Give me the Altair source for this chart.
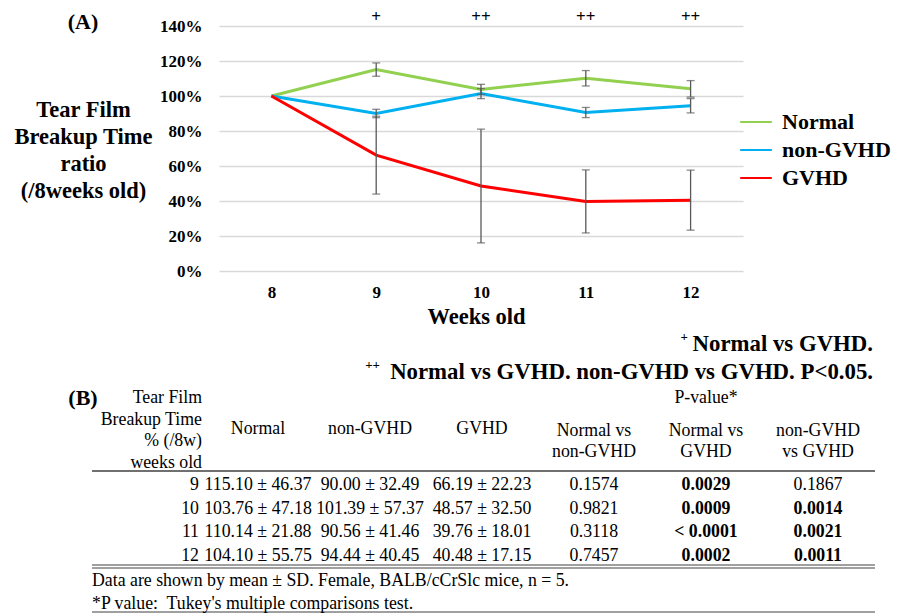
import altair as alt
import pandas as pd

FONT = "Liberation Serif"

# ---------------- data: panel (A) ----------------
weeks = [8, 9, 10, 11, 12]
groups = ["Normal", "non-GVHD", "GVHD"]
colors = ["#92d050", "#00b0f0", "#ff0000"]
normal_mean = [100.0, 115.10, 103.76, 110.14, 104.10]
nongvhd_mean = [100.0, 90.00, 101.39, 90.56, 94.44]
gvhd_mean = [100.0, 66.19, 48.57, 39.76, 40.48]
normal_err = [None, 3.8, 2.9, 4.4, 4.7]
nongvhd_err = [None, 2.4, 2.9, 2.9, 4.1]
gvhd_err = [None, 22.23, 32.50, 18.01, 17.15]
sig_marks = ["", "+", "++", "++", "++"]
y_title = ["Tear Film", "Breakup Time", "ratio", "(/8weeks old)"]
note_single = "Normal vs GVHD."
note_double = "Normal vs GVHD. non-GVHD vs GVHD. P<0.05."

# ---------------- data: panel (B) ----------------
tab_weeks = ["9", "10", "11", "12"]
tab_normal_mean = [115.10, 103.76, 110.14, 104.10]
tab_normal_sd = [46.37, 47.18, 21.88, 55.75]
tab_nongvhd_mean = [90.00, 101.39, 90.56, 94.44]
tab_nongvhd_sd = [32.49, 57.37, 41.46, 40.45]
tab_gvhd_mean = [66.19, 48.57, 39.76, 40.48]
tab_gvhd_sd = [22.23, 32.50, 18.01, 17.15]
p_normal_vs_nongvhd = ["0.1574", "0.9821", "0.3118", "0.7457"]
p_normal_vs_gvhd = ["0.0029", "0.0009", "< 0.0001", "0.0002"]
p_nongvhd_vs_gvhd = ["0.1867", "0.0014", "0.0021", "0.0011"]
table_columns = ["Normal", "non-GVHD", "GVHD",
                 "Normal vs non-GVHD", "Normal vs GVHD", "non-GVHD vs GVHD"]
table_headers = ["Normal", "non-GVHD", "GVHD",
                 "Normal vs\nnon-GVHD", "Normal vs\nGVHD", "non-GVHD\nvs GVHD"]
row_header = "Tear Film\nBreakup Time\n% (/8w)\nweeks old"
pvalue_header = "P-value*"
footnote_1 = "Data are shown by mean \u00b1 SD. Female, BALB/cCrSlc mice, n = 5."
footnote_2 = "*P value:\u00a0 Tukey's multiple comparisons test."

# ---------------- build tables ----------------
recs = []
for g, means, errs in zip(groups, [normal_mean, nongvhd_mean, gvhd_mean],
                          [normal_err, nongvhd_err, gvhd_err]):
    for w, m, e in zip(weeks, means, errs):
        recs.append({"week": w, "group": g, "ratio": m / 100.0,
                     "lo": None if e is None else (m - e) / 100.0,
                     "hi": None if e is None else (m + e) / 100.0})
plot_df = pd.DataFrame(recs)
err_df = plot_df.dropna(subset=["lo"]).copy()
sig_df = pd.DataFrame({"week": weeks, "sig": sig_marks})


def pbold(p):
    return float(p.replace("<", "").strip()) < 0.05


cells = []
for i, r in enumerate(tab_weeks):
    vals = [f"{tab_normal_mean[i]:.2f} \u00b1 {tab_normal_sd[i]:.2f}",
            f"{tab_nongvhd_mean[i]:.2f} \u00b1 {tab_nongvhd_sd[i]:.2f}",
            f"{tab_gvhd_mean[i]:.2f} \u00b1 {tab_gvhd_sd[i]:.2f}",
            p_normal_vs_nongvhd[i], p_normal_vs_gvhd[i], p_nongvhd_vs_gvhd[i]]
    bolds = [False, False, False,
             pbold(p_normal_vs_nongvhd[i]), pbold(p_normal_vs_gvhd[i]),
             pbold(p_nongvhd_vs_gvhd[i])]
    for c, v, b in zip(table_columns, vals, bolds):
        cells.append({"row": r, "col": c, "text": v, "bold": b})
cell_df = pd.DataFrame(cells)
week_df = pd.DataFrame({"row": tab_weeks})
head_df = pd.DataFrame({"col": table_columns, "text": table_headers})
one = pd.DataFrame({"k": [0]})

# ---------------- panel (A) ----------------
x_enc = alt.X(
    "week:O",
    scale=alt.Scale(type="point", domain=weeks, padding=0.5),
    axis=alt.Axis(title="Weeks old", labelAngle=0, labelFont=FONT, labelFontSize=17,
                  labelFontWeight="bold", labelColor="black", labelPadding=13,
                  ticks=False, tickSize=0, domain=False, grid=False,
                  titleFont=FONT, titleFontSize=22.5, titleFontWeight="bold",
                  titleColor="black", titleY=45, titleX=257, titleBaseline="middle"),
)
y_enc = alt.Y(
    "ratio:Q",
    scale=alt.Scale(domain=[0, 1.4], nice=False),
    axis=alt.Axis(title=y_title, tickCount=7, format=".0%",
                  labelFont=FONT, labelFontSize=17, labelFontWeight="bold",
                  labelColor="black", labelPadding=17, ticks=False, tickSize=0,
                  labelOverlap=False,
                  domain=False, gridColor="#d9d9d9", gridWidth=1.5,
                  titleFont=FONT, titleFontSize=22.5, titleFontWeight="bold",
                  titleColor="black", titleAngle=0, titleAlign="center",
                  titleBaseline="middle", titleX=-136, titleY=83,
                  titleLineHeight=27),
)
color_enc = alt.Color(
    "group:N",
    scale=alt.Scale(domain=groups, range=colors),
    legend=alt.Legend(title=None, orient="none", legendX=520, legendY=79,
                      symbolType="stroke", symbolSize=1000, symbolStrokeWidth=2,
                      labelFont=FONT, labelFontSize=22, labelFontWeight="bold",
                      labelColor="black", labelOffset=9, rowPadding=-4.5,
                      labelLimit=200),
)

lines = alt.Chart(plot_df).mark_line(strokeWidth=3).encode(
    x=x_enc, y=y_enc, color=color_enc)
err_rule = alt.Chart(err_df).mark_rule(color="#595959", strokeWidth=1.3).encode(
    x="week:O", y="lo:Q", y2="hi:Q")
cap_lo = alt.Chart(err_df).mark_tick(color="#595959", thickness=1.3, size=8,
                                     orient="horizontal").encode(x="week:O", y="lo:Q")
cap_hi = alt.Chart(err_df).mark_tick(color="#595959", thickness=1.3, size=8,
                                     orient="horizontal").encode(x="week:O", y="hi:Q")
sig = alt.Chart(sig_df).mark_text(font=FONT, fontSize=17, fontWeight="bold",
                                  color="black").encode(
    x="week:O", y=alt.value(-9), text="sig:N")

panel_a = alt.layer(lines, err_rule, cap_lo, cap_hi, sig)

# ---------------- panel (B) and annotations ----------------
tab_x = alt.X("col:N", scale=alt.Scale(type="point", domain=table_columns,
                                       range=[39, 599], padding=0), axis=None)
tab_y = alt.Y("row:N", scale=alt.Scale(type="point", domain=tab_weeks,
                                       range=[459, 529.5], padding=0), axis=None)

txt = dict(font=FONT, fontSize=17.8, color="black", baseline="middle")

cells_normal = alt.Chart(cell_df).transform_filter("!datum.bold").mark_text(**txt).encode(
    x=tab_x, y=tab_y, text="text:N")
cells_bold = alt.Chart(cell_df).transform_filter("datum.bold").mark_text(
    fontWeight="bold", **txt).encode(x=tab_x, y=tab_y, text="text:N")
week_txt = alt.Chart(week_df).mark_text(align="right", **txt).encode(
    x=alt.value(-20), y=tab_y, text="row:N")
head1 = alt.Chart(head_df.iloc[:3]).mark_text(**txt).encode(
    x=tab_x, y=alt.value(403), text="text:N")
head2 = alt.Chart(head_df.iloc[3:]).mark_text(lineBreak="\n", lineHeight=21, **txt).encode(
    x=tab_x, y=alt.value(405), text="text:N")
pval_head = alt.Chart(pd.DataFrame({"col": ["Normal vs GVHD"], "text": [pvalue_header]})).mark_text(
    **txt).encode(x=tab_x, y=alt.value(372), text="text:N")
row_head = alt.Chart(pd.DataFrame({"text": [row_header]})).mark_text(
    align="right", lineBreak="\n", lineHeight=21.7, **txt).encode(
    x=alt.value(-17), y=alt.value(372), text="text:N")
foot1 = alt.Chart(pd.DataFrame({"text": [footnote_1]})).mark_text(align="left", **txt).encode(
    x=alt.value(-127), y=alt.value(555), text="text:N")
foot2 = alt.Chart(pd.DataFrame({"text": [footnote_2]})).mark_text(align="left", **txt).encode(
    x=alt.value(-127), y=alt.value(578), text="text:N")

rule_top = alt.Chart(one).mark_rule(color="#404040", strokeWidth=1.5).encode(
    x=alt.value(-127), x2=alt.value(656), y=alt.value(445))
rule_d1 = alt.Chart(one).mark_rule(color="#404040", strokeWidth=1).encode(
    x=alt.value(-127), x2=alt.value(656), y=alt.value(539))
rule_d2 = alt.Chart(one).mark_rule(color="#404040", strokeWidth=1).encode(
    x=alt.value(-127), x2=alt.value(656), y=alt.value(542))
rule_bot = alt.Chart(one).mark_rule(color="#404040", strokeWidth=1).encode(
    x=alt.value(-127), x2=alt.value(656), y=alt.value(586))

lab_a = alt.Chart(pd.DataFrame({"t": ["(A)"]})).mark_text(
    font=FONT, fontSize=22, fontWeight="bold", color="black", baseline="middle").encode(
    x=alt.value(-136), y=alt.value(-4), text="t:N")
lab_b = alt.Chart(pd.DataFrame({"t": ["(B)"]})).mark_text(
    font=FONT, fontSize=22, fontWeight="bold", color="black", baseline="middle").encode(
    x=alt.value(-136), y=alt.value(372), text="t:N")

ann = dict(font=FONT, fontSize=22.8, fontWeight="bold", color="black",
           baseline="middle", align="right")
note1 = alt.Chart(pd.DataFrame({"t": [note_single]})).mark_text(**ann).encode(
    x=alt.value(654), y=alt.value(318), text="t:N")
note2 = alt.Chart(pd.DataFrame({"t": [note_double]})).mark_text(**ann).encode(
    x=alt.value(654), y=alt.value(346), text="t:N")
sup = dict(font=FONT, fontSize=13, fontWeight="bold", color="black",
           baseline="middle", align="right")
sup1 = alt.Chart(pd.DataFrame({"t": ["+"]})).mark_text(**sup).encode(
    x=alt.value(469), y=alt.value(311), text="t:N")
sup2 = alt.Chart(pd.DataFrame({"t": ["++"]})).mark_text(**sup).encode(
    x=alt.value(161), y=alt.value(339), text="t:N")

panel_b = alt.layer(rule_top, rule_d1, rule_d2, rule_bot, cells_normal, cells_bold,
                    week_txt, head1, head2, pval_head, row_head, foot1, foot2,
                    lab_a, lab_b, note1, note2, sup1, sup2)

chart = alt.layer(panel_a, panel_b).resolve_scale(
    x="independent", y="independent"
).properties(
    width=524, height=245,
    padding={"left": 211, "top": 18, "right": 150, "bottom": 342},
    autosize=alt.AutoSizeParams(type="none"),
).configure_view(stroke=None)

chart.save("out.html", embed_options={"renderer": "svg", "actions": False})
